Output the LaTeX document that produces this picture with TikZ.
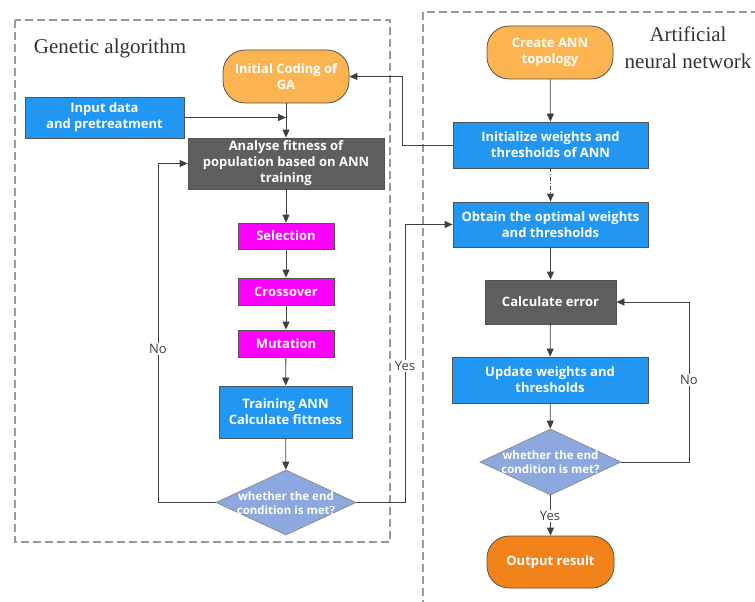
\documentclass[tikz,border=0pt]{standalone}
\usepackage{fontspec}
\setmainfont{Liberation Serif}
\newfontfamily\boxfont{Open Sans}
\usetikzlibrary{arrows.meta,shapes.geometric}
\definecolor{lorange}{RGB}{252,180,80}
\definecolor{dorange}{RGB}{242,130,26}
\definecolor{mblue}{RGB}{33,150,243}
\definecolor{mgray}{RGB}{94,94,94}
\definecolor{mmag}{RGB}{255,0,255}
\definecolor{dblue}{RGB}{140,168,222}
\definecolor{lcol}{RGB}{64,64,64}
\tikzset{
  x=1pt,y=-1pt,
  base/.style={draw=lcol!90, line width=0.8pt, text=white, align=center, inner sep=0pt,
    font=\boxfont\bfseries\fontsize{13}{16}\selectfont},
  stadium/.style={base, rounded corners=22pt},
  bluebox/.style={base, fill=mblue},
  graybox/.style={base, fill=mgray},
  magbox/.style={base, fill=mmag},
  dia/.style={base, diamond, fill=dblue, draw=lcol!60},
  diatext/.style={text=white, align=center, inner sep=0pt, font=\boxfont\bfseries\fontsize{11.5}{14}\selectfont},
  arr/.style={draw=lcol, line width=0.8pt, -{Triangle[length=8pt,width=7pt]}},
  lbl/.style={fill=white, inner sep=1pt, text=lcol, font=\boxfont\fontsize{13}{15}\selectfont},
  frame/.style={draw=gray!80, line width=1.1pt, dash pattern=on 8pt off 4pt},
  title/.style={text=black!80, align=center, font=\fontsize{21}{27}\selectfont, inner sep=0pt}
}
\begin{document}
\begin{tikzpicture}
\useasboundingbox (0,0) rectangle (755,602);
\fill[white] (0,0) rectangle (755,602);
% frames
\draw[frame] (15,20) rectangle (390,542);
\draw[frame] (423,620) -- (423,12) -- (780,12);
\node[title] (tga) at (110,48) {Genetic algorithm};
\node[title] (tann) at (688,48) {Artificial\\neural network};
% left column
\node[stadium, fill=lorange, minimum width=126pt, minimum height=53pt] (ic) at (286,76.5) {Initial Coding of\\GA};
\node[bluebox, minimum width=159pt, minimum height=41pt] (inp) at (104.5,117.5) {Input data\\and pretreatment};
\node[graybox, minimum width=196pt, minimum height=51pt] (ana) at (286,163.5) {Analyse fitness of\\population based on ANN\\training};
\node[magbox, minimum width=96pt, minimum height=26pt] (sel) at (286,236) {Selection};
\node[magbox, minimum width=96pt, minimum height=27pt] (cro) at (286,291.5) {Crossover};
\node[magbox, minimum width=96pt, minimum height=27pt] (mut) at (286,343.5) {Mutation};
\node[bluebox, minimum width=133pt, minimum height=52pt] (tra) at (285.5,412) {Training ANN\\Calculate fittness};
\node[dia, minimum width=140pt, minimum height=65pt] (d1) at (286,502.5) {};
\node[diatext] (d1t) at (286,503) {whether the end\\condition is met?};
% right column
\node[stadium, fill=lorange, minimum width=126pt, minimum height=53pt] (cat) at (550,52.5) {Create ANN\\topology};
\node[bluebox, minimum width=195pt, minimum height=46pt] (ini) at (550.5,145) {Initialize weights and\\thresholds of ANN};
\node[bluebox, minimum width=195pt, minimum height=45pt] (obt) at (550.5,224.5) {Obtain the optimal weights\\and thresholds};
\node[graybox, minimum width=131pt, minimum height=44pt] (cal) at (550.5,302) {Calculate error};
\node[bluebox, minimum width=196pt, minimum height=46pt] (upd) at (550,380) {Update weights and\\thresholds};
\node[dia, minimum width=141pt, minimum height=66pt] (d2) at (550.5,462) {};
\node[diatext] (d2t) at (550.5,462.5) {whether the end\\condition is met?};
\node[stadium, fill=dorange, minimum width=127pt, minimum height=52pt] (out) at (550.5,562) {Output result};
% connectors left
\draw[arr] (ic) -- (ana);
\draw[arr] (inp.east) -- (inp.east -| ana.north);
\draw[arr] (ana) -- (sel);
\draw[arr] (sel) -- (cro);
\draw[arr] (cro) -- (mut);
\draw[arr] (mut) -- (tra);
\draw[arr] (tra) -- (d1);
\coordinate (nl) at (158,502.5);
\draw[arr] (d1.west) -- (nl) |- (ana.west);
\node[lbl] (no1) at (158,349) {No};
\coordinate (yl) at (405,502.5);
\draw[arr] (d1.east) -- (yl) |- (obt.west);
\node[lbl] (yes1) at (405,366) {Yes};
% connectors right
\draw[arr] (cat) -- (ini);
\coordinate (il) at (402,145);
\draw[arr] (ini.west) -- (il) |- (ic.east);
\draw[arr, dash pattern=on 4pt off 2pt on 1pt off 2pt] (ini) -- (obt);
\draw[arr] (obt) -- (cal);
\draw[arr] (cal) -- (upd);
\draw[arr] (upd) -- (d2);
\coordinate (nr) at (689,462);
\draw[arr] (d2.east) -- (nr) |- (cal.east);
\node[lbl] (no2) at (689,380) {No};
\draw[arr] (d2) -- (out);
\node[lbl] (yes2) at (550,516) {Yes};
\end{tikzpicture}
\end{document}
